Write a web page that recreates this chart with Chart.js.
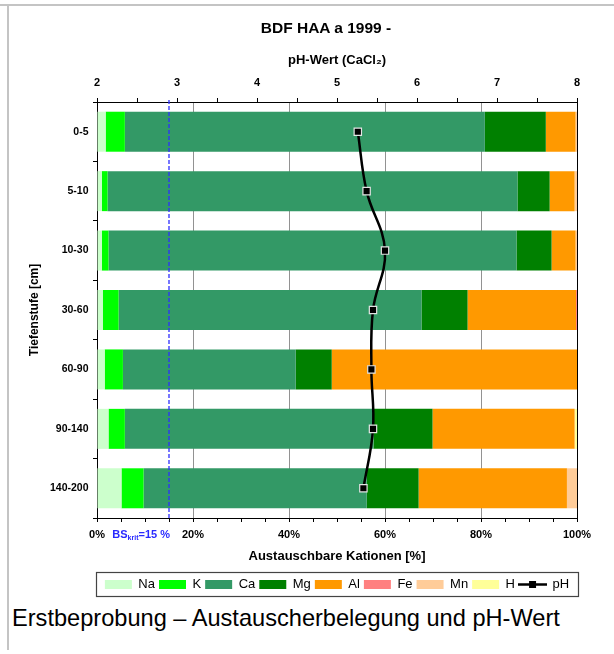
<!DOCTYPE html>
<html>
<head>
<meta charset="utf-8">
<script src="https://cdn.jsdelivr.net/npm/chart.js@4/dist/chart.umd.min.js"></script>
<style>
html,body{margin:0;padding:0;background:#fff;width:614px;height:654px;overflow:hidden;font-family:'Liberation Sans',Arial,sans-serif}
#frameTop{position:absolute;left:0;top:4px;width:614px;height:2px;background:#c4c4c4}
#frameLeft{position:absolute;left:7px;top:4px;width:2px;height:646px;background:#c4c4c4}
#wrap{position:absolute;left:0;top:0;width:614px;height:601px}
#title{position:absolute;left:0;width:652px;top:19.6px;text-align:center;font-weight:bold;font-size:15.5px;line-height:15.5px;color:#000}
#caption{position:absolute;left:12px;top:606.7px;font-size:23.6px;line-height:23.6px;white-space:nowrap;color:#000}
</style>
</head>
<body>
<div id="frameTop"></div>
<div id="frameLeft"></div>
<div id="wrap"><canvas id="c" width="614" height="601"></canvas></div>
<div id="title">BDF HAA a 1999 -</div>
<div id="caption">Erstbeprobung – Austauscherbelegung und pH-Wert</div>
<script>
// ---- data ----
const categories = ['0-5','5-10','10-30','30-60','60-90','90-140','140-200'];
const na = [1.8, 1.0, 1.0, 1.2, 1.6, 2.4, 5.1];
const k  = [4.0, 1.2, 1.4, 3.3, 3.8, 3.4, 4.6];
const ca = [75.0, 85.4, 85.0, 63.1, 36.0, 51.8, 46.5];
const mg = [12.7, 6.7, 7.3, 9.6, 7.5, 12.3, 10.8];
const al = [6.2, 5.2, 5.0, 22.6, 51.1, 29.6, 30.9];
const fe = [0, 0, 0, 0.2, 0, 0, 0];
const mn = [0.3, 0.5, 0.3, 0, 0, 0, 2.1];
const h  = [0, 0, 0, 0, 0, 0.5, 0];
const ph = [5.26, 5.37, 5.60, 5.45, 5.43, 5.45, 5.33];
const bsKrit = 15;
const seriesNames = ['Na','K','Ca','Mg','Al','Fe','Mn','H'];
const seriesData = [na, k, ca, mg, al, fe, mn, h];
const seriesColors = ['#CCFFCC','#00FF00','#339966','#008000','#FF9900','#FF8080','#FFCC99','#FFFF99'];

const FONT = "'Liberation Sans', Arial, sans-serif";
Chart.defaults.font.family = FONT;
Chart.defaults.color = '#000';

// legend symbol for pH line
const phSym = document.createElement('canvas');
phSym.width = 29; phSym.height = 9;
(function(){
  const g = phSym.getContext('2d');
  g.strokeStyle = '#000'; g.lineWidth = 2.5;
  g.beginPath(); g.moveTo(0, 4.5); g.lineTo(29, 4.5); g.stroke();
  g.fillStyle = '#000'; g.fillRect(11, 1, 7, 7);
})();

const barDatasets = seriesNames.map((n, i) => ({
  type: 'bar', label: n, data: seriesData[i], backgroundColor: seriesColors[i],
  borderWidth: 0, xAxisID: 'x', yAxisID: 'y', order: 1,
  barPercentage: 0.673, categoryPercentage: 1
}));

const phDataset = {
  type: 'line', label: 'pH', data: ph, xAxisID: 'xPH', yAxisID: 'y', indexAxis: 'y',
  borderColor: '#000', borderWidth: 2.5, tension: 0.4, fill: false,
  pointStyle: 'rect', pointRadius: 5.2, pointBackgroundColor: '#000',
  pointBorderColor: '#e4e4e4', pointBorderWidth: 1.2, order: 0
};

const extras = {
  id: 'extras',
  afterDatasetsDraw(chart) {
    const {ctx, chartArea: ca} = chart;
    const xs = chart.scales.x;
    const xp = xs.getPixelForValue(bsKrit);
    ctx.save();
    // BS krit dashed line
    ctx.strokeStyle = '#2f2fff'; ctx.lineWidth = 1.3; ctx.setLineDash([4, 2]);
    ctx.beginPath(); ctx.moveTo(xp, ca.top - 2); ctx.lineTo(xp, ca.bottom); ctx.stroke();
    ctx.setLineDash([]);
    // right frame
    ctx.strokeStyle = '#000'; ctx.lineWidth = 1;
    ctx.beginPath(); ctx.moveTo(Math.round(ca.right) + 0.5, ca.top); ctx.lineTo(Math.round(ca.right) + 0.5, ca.bottom); ctx.stroke();
    ctx.restore();
  },
  afterDraw(chart) {
    const {ctx, chartArea: ca} = chart;
    const xs = chart.scales.x;
    const xp = xs.getPixelForValue(bsKrit);
    ctx.save();
    // BS_krit label
    const big = 'bold 11px ' + FONT, small = 'bold 7px ' + FONT;
    ctx.font = big; const w1 = ctx.measureText('BS').width; const w3 = ctx.measureText('=15 %').width;
    ctx.font = small; const w2 = ctx.measureText('krit').width;
    let x0 = xp + 1 - (w1 + w2 + w3);
    const yb = xs.top + 20;
    ctx.fillStyle = '#2a2aff'; ctx.textBaseline = 'alphabetic'; ctx.textAlign = 'left';
    ctx.font = big; ctx.fillText('BS', x0, yb);
    ctx.font = small; ctx.fillText('krit', x0 + w1, yb + 2);
    ctx.font = big; ctx.fillText('=15 %', x0 + w1 + w2, yb);
    // legend frame
    const lg = chart.legend;
    if (lg && lg.legendHitBoxes && lg.legendHitBoxes.length) {
      const hb = lg.legendHitBoxes;
      const top = hb[0].top - 6, bot = hb[0].top + hb[0].height + 4.5;
      ctx.strokeStyle = '#444'; ctx.lineWidth = 1.2;
      ctx.strokeRect(Math.round(ca.left) - 0.5, Math.round(top) + 0.5, Math.round(ca.right) - Math.round(ca.left) + 2, Math.round(bot - top));
    }
    ctx.restore();
  }
};

const legendItems = seriesNames.map((n, i) => ({
  text: n, fillStyle: seriesColors[i], strokeStyle: seriesColors[i], lineWidth: 0,
  pointStyle: 'rect', hidden: false, datasetIndex: i + 1, fontColor: '#000'
})).concat([{
  text: 'pH', fillStyle: '#000', strokeStyle: '#000', lineWidth: 0,
  pointStyle: phSym, hidden: false, datasetIndex: 0, fontColor: '#000'
}]);

new Chart(document.getElementById('c'), {
  type: 'bar',
  data: { labels: categories, datasets: [phDataset].concat(barDatasets) },
  plugins: [extras],
  options: {
    responsive: false, animation: false, indexAxis: 'y',
    layout: { padding: { top: 45, left: 0, right: 37, bottom: 0 } },
    plugins: {
      tooltip: { enabled: false },
      title: { display: false },
      legend: {
        display: true, position: 'bottom', fullSize: false, align: 'center',
        labels: {
          usePointStyle: true, pointStyleWidth: 27, boxHeight: 9, padding: 4,
          color: '#000', font: { size: 13 },
          generateLabels: () => legendItems
        }
      }
    },
    scales: {
      x: {
        type: 'linear', position: 'bottom', stacked: true, min: 0, max: 100,
        ticks: { stepSize: 5, maxTicksLimit: 100, autoSkip: false, maxRotation: 0, padding: 6,
          color: '#000', font: { size: 11, weight: 'bold' },
          callback: v => (Math.round(v) % 20 === 0 ? Math.round(v) + '%' : '') },
        grid: {
          color: c => (c.tick && c.tick.value % 20 === 0 && c.tick.value > 0 && c.tick.value < 100) ? '#929292' : 'rgba(0,0,0,0)',
          lineWidth: 1, tickLength: 4, tickColor: '#000', drawTicks: true
        },
        border: { color: '#000', width: 1 },
        title: { display: true, text: 'Austauschbare Kationen [%]', color: '#000',
          font: { size: 13, weight: 'bold' }, padding: { top: 0, bottom: 10.2 } },
        afterFit: s => { s.height = 56; }
      },
      xPH: {
        type: 'linear', position: 'top', axis: 'x', min: 2, max: 8,
        ticks: { stepSize: 0.5, maxTicksLimit: 100, autoSkip: false, maxRotation: 0, padding: 8,
          color: '#000', font: { size: 11, weight: 'bold' },
          callback: v => (Math.abs(v - Math.round(v)) < 1e-6 ? String(Math.round(v)) : '') },
        grid: { drawOnChartArea: false, tickLength: 4, tickColor: '#000' },
        border: { color: '#000', width: 1 },
        title: { display: true, text: 'pH-Wert (CaCl₂)', color: '#000',
          font: { size: 13, weight: 'bold' }, padding: { top: 8, bottom: 0 } },
        afterFit: s => { s.height = 57; }
      },
      y: {
        type: 'category', position: 'left', stacked: true, offset: true,
        ticks: { padding: 4.5, color: '#000', font: { size: 10.5, weight: 'bold' } },
        grid: { drawOnChartArea: false, offset: true, tickLength: 4, tickColor: '#000' },
        border: { color: '#000', width: 1 },
        title: { display: true, text: 'Tiefenstufe [cm]', color: '#000',
          font: { size: 12, weight: 'bold' }, padding: { top: 27.8, bottom: 0 } },
        afterFit: s => { s.width = 97; }
      }
    }
  }
});
</script>
</body>
</html>
